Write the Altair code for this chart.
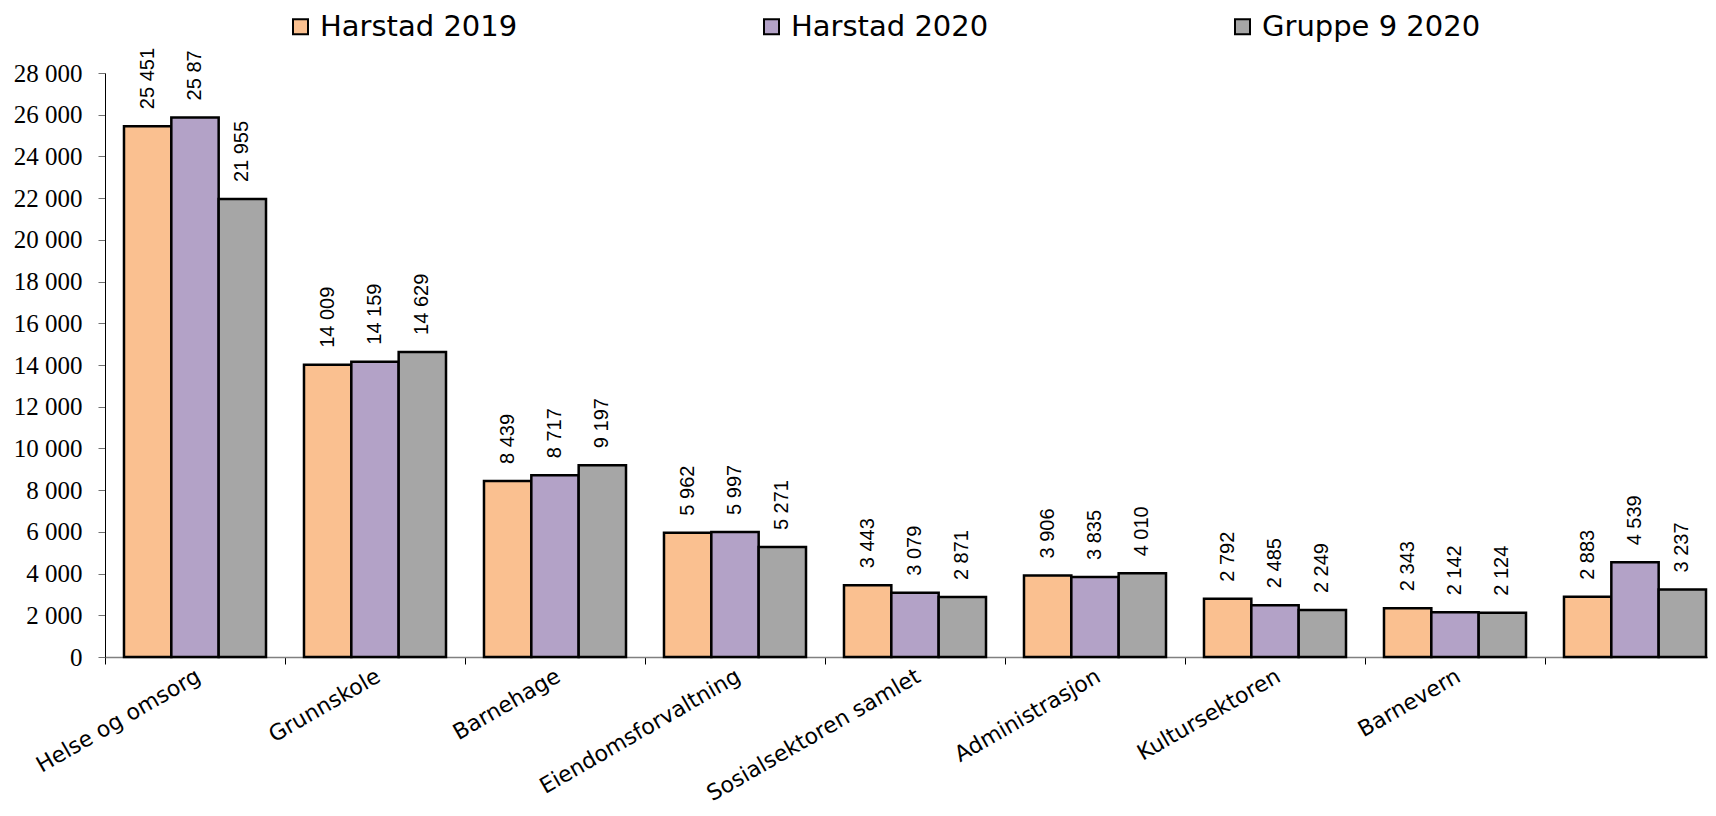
import altair as alt
import pandas as pd

categories = ["Helse og omsorg", "Grunnskole", "Barnehage", "Eiendomsforvaltning",
              "Sosialsektoren samlet", "Administrasjon", "Kultursektoren", "Barnevern", " "]
series = ["Harstad 2019", "Harstad 2020", "Gruppe 9 2020"]
colors = ["#FAC090", "#B3A2C7", "#A6A6A6"]

harstad_2019 = [25451, 14009, 8439, 5962, 3443, 3906, 2792, 2343, 2883]
harstad_2020 = [25870, 14159, 8717, 5997, 3079, 3835, 2485, 2142, 4539]
gruppe9_2020 = [21955, 14629, 9197, 5271, 2871, 4010, 2249, 2124, 3237]

# data labels exactly as printed in the source chart
labels_2019 = ["25 451", "14 009", "8 439", "5 962", "3 443", "3 906", "2 792", "2 343", "2 883"]
labels_2020 = ["25 87", "14 159", "8 717", "5 997", "3 079", "3 835", "2 485", "2 142", "4 539"]
labels_g9 = ["21 955", "14 629", "9 197", "5 271", "2 871", "4 010", "2 249", "2 124", "3 237"]

y_ticks = [0, 2000, 4000, 6000, 8000, 10000, 12000, 14000, 16000, 18000,
           20000, 22000, 24000, 26000, 28000]

rows = []
for s, vals, labs in zip(series, [harstad_2019, harstad_2020, gruppe9_2020],
                         [labels_2019, labels_2020, labels_g9]):
    for c, v, l in zip(categories, vals, labs):
        rows.append({"cat": c, "series": s, "value": v, "label": l})
df = pd.DataFrame(rows)

base = alt.Chart(df).encode(
    x=alt.X("cat:N", sort=categories, title=None,
            scale=alt.Scale(range=[0, 1620], paddingInner=0.211, paddingOuter=0.1055),
            axis=alt.Axis(labelAngle=-30, labelAlign="right", labelBaseline="middle",
                          labelFont="DejaVu Sans", labelFontSize=22, labelColor="black",
                          labelPadding=10, labelOffset=22, labelLimit=400,
                          bandPosition=0, tickOffset=-19,
                          tickColor="black", tickSize=7, tickWidth=1,
                          domainColor="#808080", domainWidth=1.5, grid=False)),
    xOffset=alt.XOffset("series:N", sort=series,
                        scale=alt.Scale(paddingInner=0, paddingOuter=0)),
    y=alt.Y("value:Q", title=None,
            scale=alt.Scale(domain=[0, 28000], nice=False),
            axis=alt.Axis(values=y_ticks,
                          labelExpr="replace(format(datum.value, ','), ',', ' ')",
                          labelFont="Liberation Serif", labelFontSize=25, labelColor="black",
                          labelPadding=16, tickColor="#707070", tickSize=7, tickWidth=1,
                          domainColor="black", domainWidth=1, grid=False)),
)

bars = base.mark_bar(stroke="black", strokeWidth=2.5).encode(
    color=alt.Color("series:N", sort=series,
                    scale=alt.Scale(domain=series, range=colors),
                    legend=alt.Legend(title=None, orient="none", legendX=181, legendY=-61,
                                      direction="horizontal", columns=3, columnPadding=239,
                                      symbolType="square", symbolSize=225,
                                      symbolStrokeColor="black", symbolStrokeWidth=2,
                                      labelFont="DejaVu Sans", labelFontSize=29,
                                      labelColor="black", labelOffset=5, labelLimit=400,
                                      padding=0))
)

text = base.mark_text(angle=270, align="left", baseline="middle", dx=17,
                      font="Liberation Sans", fontSize=20, color="black").encode(
    text="label:N"
)

chart = alt.layer(bars, text).properties(
    width=1603, height=584,
    autosize=alt.AutoSizeParams(type="none"),
    padding={"left": 97, "top": 65, "right": 0, "bottom": 151},
).configure_view(stroke=None)

chart.save("out.html", embed_options={"renderer": "svg", "actions": False})
